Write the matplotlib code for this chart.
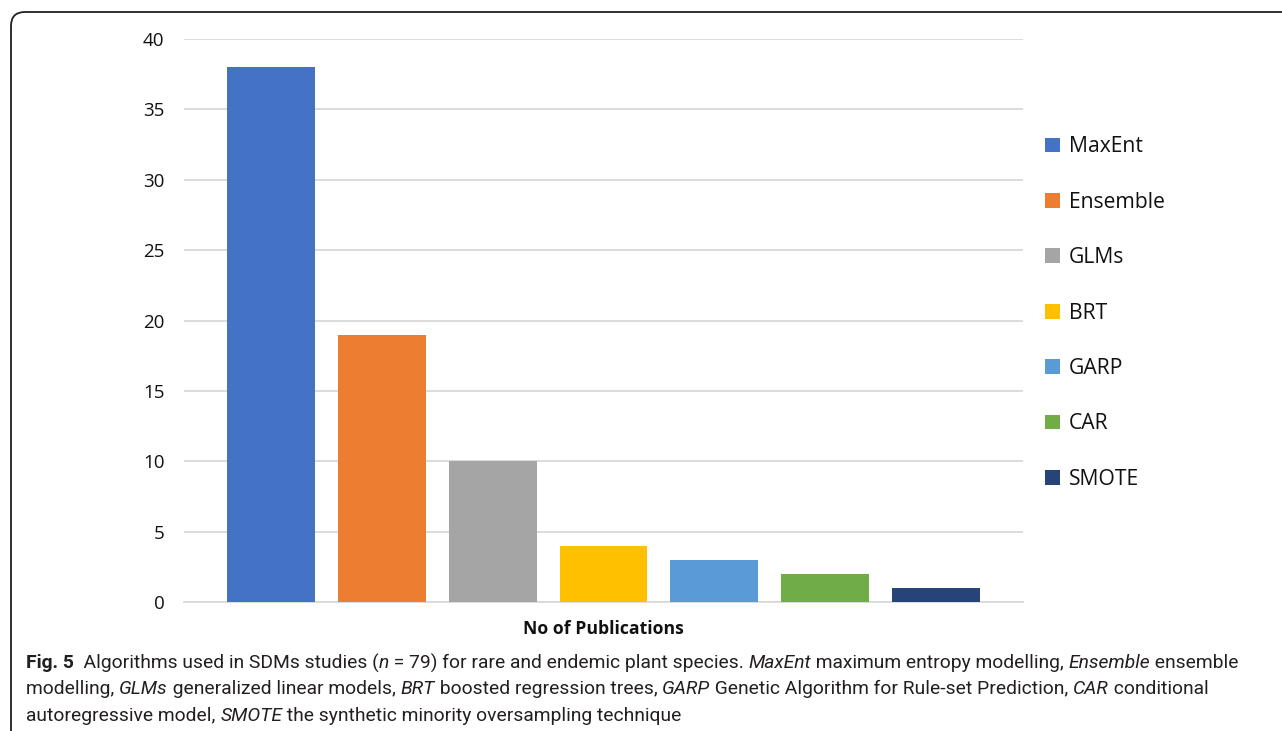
import matplotlib
matplotlib.use("Agg")
import matplotlib.pyplot as plt
from matplotlib.patches import FancyBboxPatch, Patch

# data
algorithms = ["MaxEnt", "Ensemble", "GLMs", "BRT", "GARP", "CAR", "SMOTE"]
publications = [38, 19, 10, 4, 3, 2, 1]
colors = ["#4472C4", "#ED7D31", "#A5A5A5", "#FFC000", "#5B9BD5", "#70AD47", "#264478"]
yticks = [0, 5, 10, 15, 20, 25, 30, 35, 40]

W, H = 1282, 731
fig = plt.figure(figsize=(W / 100, H / 100), dpi=100)
ax = fig.add_axes([184 / W, 1 - 602 / H, (1023 - 184) / W, (602 - 39) / H])

xpos = list(range(len(algorithms)))
bars = ax.bar(xpos, publications, width=0.795, color=colors, zorder=3)
ax.set_xlim(-0.79, 6.79)
ax.set_ylim(0, 40)
ax.set_yticks(yticks)
ax.set_xticks([])
ax.grid(axis="y", color="#d9d9d9", linewidth=1.3, zorder=0)
for s in ["top", "right", "left"]:
    ax.spines[s].set_visible(False)
ax.spines["bottom"].set_color("#d9d9d9")
ax.spines["bottom"].set_linewidth(1.3)
ax.tick_params(axis="y", length=0, pad=14, labelsize=13.5, labelcolor="#111111")
for lab in ax.get_yticklabels():
    lab.set_fontfamily("Open Sans")

ax.set_xlabel("No of Publications", fontsize=12.7, fontweight="bold",
              fontfamily="Open Sans", labelpad=13, color="#111111")

handles = [Patch(facecolor=c, edgecolor="none") for c in colors]
leg = ax.legend(handles, algorithms, loc="upper left", bbox_to_anchor=(1.016, 0.842),
                frameon=False, fontsize=15.2, labelspacing=1.63, handlelength=0.7,
                handleheight=0.7, handletextpad=0.45, borderaxespad=0)
for t in leg.get_texts():
    t.set_fontfamily("Open Sans")
    t.set_color("#111111")

# rounded frame around the figure
frame = FancyBboxPatch((11, -60), 1500, (H - 12) + 60,
                       boxstyle="round,pad=0,rounding_size=14",
                       transform=None, fill=False, edgecolor="#231f20",
                       linewidth=1.3, clip_on=False)
fig.patches.append(frame)

# caption with mixed styles
lines = [
    [("Fig. 5", "bold"), ("  Algorithms used in SDMs studies (", "normal"), ("n", "italic"),
     (" = 79) for rare and endemic plant species. ", "normal"), ("MaxEnt", "italic"),
     (" maximum entropy modelling, ", "normal"), ("Ensemble", "italic"), (" ensemble", "normal")],
    [("modelling, ", "normal"), ("GLMs", "italic"), (" generalized linear models, ", "normal"),
     ("BRT", "italic"), (" boosted regression trees, ", "normal"), ("GARP", "italic"),
     (" Genetic Algorithm for Rule-set Prediction, ", "normal"), ("CAR", "italic"),
     (" conditional", "normal")],
    [("autoregressive model, ", "normal"), ("SMOTE", "italic"),
     (" the synthetic minority oversampling technique", "normal")],
]
line_y = [663, 689, 716]
renderer = fig.canvas.get_renderer()
cap_font = "Roboto"


def put_line(segs, y, size, draw=True):
    x = 26
    made = []
    for s, style in segs:
        kw = dict(fontsize=size, fontfamily=cap_font, color="#231f20", va="center", ha="left")
        if style == "bold":
            kw["fontweight"] = "bold"
        elif style == "italic":
            kw["fontstyle"] = "italic"
        t = fig.text(x / W, 1 - y / H, s, **kw)
        x += t.get_window_extent(renderer).width
        made.append(t)
    if not draw:
        for t in made:
            t.remove()
    return x - 26


# fit caption size so the first line spans the same width as the original
w0 = put_line(lines[0], line_y[0], 12, draw=False)
cap_size = 12 * 1206 / w0
for segs, y in zip(lines, line_y):
    put_line(segs, y, cap_size)

fig.savefig("out.png", dpi=100, facecolor="white")
